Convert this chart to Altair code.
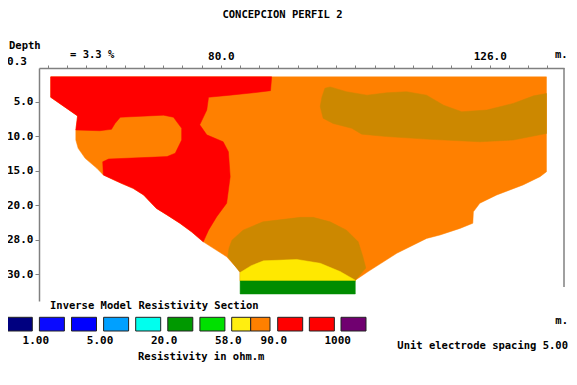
import altair as alt
import pandas as pd

# ---------------- data (distance in m, y in pseudo-depth levels) ----------------
orange_x = [50.9, 135.7, 135.7, 134.6, 131.7, 127.2, 124.3, 123.2, 123.1, 120.9, 117.5, 115.2,
            110.1, 105.2, 103.0, 103.0, 83.3, 83.3, 81.0, 77.0, 75.0, 73.0, 70.8, 69.0, 67.9,
            66.8, 65.0, 62.8, 59.9, 58.8, 56.8, 55.6, 55.2, 55.2, 55.5, 50.9]
orange_y = [0.28, 0.28, 3.03, 3.17, 3.41, 3.70, 3.94, 4.19, 4.52, 4.67, 4.86, 4.96,
            5.39, 5.92, 6.17, 6.19, 6.19, 5.92, 5.49, 5.06, 4.77, 4.52, 4.28, 4.09, 3.90,
            3.70, 3.51, 3.35, 3.12, 2.93, 2.64, 2.35, 2.11, 1.82, 1.41, 0.87]

red_x = [50.9, 88.7, 88.5, 85.6, 81.6, 77.9, 77.6, 76.4, 77.6, 80.4, 81.3, 81.6, 81.0, 79.3,
         77.9, 77.0, 75.0, 73.0, 70.8, 69.0, 67.9, 66.8, 65.0, 62.8, 59.9, 59.8, 60.8, 70.8,
         72.2, 73.3, 73.3, 71.9, 70.2, 62.8, 61.9, 61.3, 59.3, 55.2, 55.5, 50.9]
red_y = [0.28, 0.28, 0.68, 0.74, 0.81, 0.87, 1.24, 1.67, 1.96, 2.16, 2.45, 3.17, 3.94, 4.33,
         4.72, 5.06, 4.77, 4.52, 4.28, 4.09, 3.90, 3.70, 3.51, 3.35, 3.12, 2.74, 2.66, 2.59,
         2.49, 2.11, 1.77, 1.45, 1.39, 1.45, 1.63, 1.80, 1.84, 1.82, 1.41, 0.87]

band_x = [98.7, 97.8, 97.3, 97.0, 97.5, 99.2, 102.4, 104.1, 108.4, 115.8, 124.3, 130.0,
          135.7, 135.7, 133.5, 130.0, 125.5, 121.2, 118.1, 115.2, 111.8, 108.4, 105.0, 101.5]
band_y = [0.57, 0.61, 0.86, 1.14, 1.48, 1.63, 1.77, 1.94, 2.01, 2.09, 2.16, 2.11,
          1.92, 0.76, 0.83, 1.05, 1.24, 1.29, 1.10, 0.81, 0.71, 0.74, 0.81, 0.71]

mound_x = [83.3, 83.3, 81.2, 81.4, 81.9, 83.8, 87.2, 93.6, 95.8, 98.7, 101.5, 103.5, 104.3,
           104.8, 103.0, 103.0]
mound_y = [6.19, 5.95, 5.49, 5.24, 5.01, 4.72, 4.48, 4.35, 4.35, 4.48, 4.72, 5.06, 5.49,
           5.82, 6.17, 6.19]

yellow_x = [83.3, 83.3, 85.2, 87.3, 93.0, 97.0, 100.4, 103.0, 103.0]
yellow_y = [6.19, 5.95, 5.75, 5.61, 5.57, 5.68, 5.92, 6.17, 6.19]

green_x = [83.3, 103.0, 103.0, 83.3]
green_y = [6.19, 6.19, 6.57, 6.57]

x_ticks = [50.43, 53.71, 57.00, 60.29, 63.57, 66.86, 70.14, 73.43, 76.71, 80.0, 83.29, 86.57,
           89.86, 93.14, 96.43, 99.71, 103.0, 106.29, 109.57, 112.86, 116.14, 119.43, 122.71,
           126.0, 129.29, 132.57, 135.86]
x_labels = {80.0: "80.0", 126.0: "126.0"}
depth_labels = ["0.3", "5.0", "10.0", "15.0", "20.0", "28.0", "30.0"]

legend_colors = ["#000080", "#0a0aff", "#0000ff", "#00a0ff", "#00ffee", "#009900",
                 "#00e000", "#ffee10", "#ff8000", "#ff0000", "#ff0000", "#700070"]
legend_labels = ["1.00", "5.00", "20.0", "58.0", "90.0", "1000"]

# ---------------- layout ----------------
W, H = 525, 233
OX, OY = 39, 68          # page position of plot origin
FONT = "DejaVu Sans Mono"
FS_LAB = 11
FS_TXT = 10.5
AX = "#808080"

def vx(p):
    return p - OX

def vy(p):
    return p - OY

x_enc = alt.X(
    "x:Q",
    scale=alt.Scale(domain=[48.9, 138.7], nice=False, zero=False),
    axis=alt.Axis(
        orient="top", values=x_ticks, grid=False, title=None,
        labelExpr=" : ".join(
            f"abs(datum.value-{v})<0.01 ? '{t}'" for v, t in x_labels.items()) + " : ''",
        tickSize=3, tickColor=AX, domainColor=AX, domainWidth=1.5,
        labelFont=FONT, labelFontSize=FS_LAB, labelFontWeight="bold", labelColor="black",
        labelPadding=4, labelOverlap=False, labelFlush=False,
    ),
)
y_enc = alt.Y(
    "y:Q",
    scale=alt.Scale(domain=[0.023, 6.773], reverse=True, nice=False, zero=False),
    axis=alt.Axis(
        orient="left", values=[1, 2, 3, 4, 5, 6], grid=False, title=None,
        labelExpr="[" + ",".join(f"'{d}'" for d in depth_labels) + "][datum.value]",
        tickSize=4, tickColor=AX, domainColor=AX, domainWidth=1.5,
        labelFont=FONT, labelFontSize=FS_LAB, labelFontWeight="bold", labelColor="black",
        labelPadding=2, labelOverlap=False, labelFlush=False,
    ),
)


def poly(xs, ys, color):
    df = pd.DataFrame({"x": xs, "y": ys, "i": list(range(len(xs)))})
    return alt.Chart(df).mark_line(
        filled=True, fill=color, stroke=color, strokeWidth=0.5, interpolate="linear-closed"
    ).encode(x=x_enc, y=y_enc, order=alt.Order("i:Q"))


main = alt.layer(
    poly(orange_x, orange_y, "#ff8000"),
    poly(red_x, red_y, "#ff0000"),
    poly(band_x, band_y, "#cc8800"),
    poly(mound_x, mound_y, "#cc8800"),
    poly(yellow_x, yellow_y, "#ffe800"),
    poly(green_x, green_y, "#008c00"),
)

# legend boxes (layout)
lefts = [7.3 + 32.1 * i for i in range(7)] + [231.7, 250.7] + [277.7 + 31.65 * k for k in range(3)]
rights = [l + 25 for l in lefts[:7]] + [250.7, 270.0] + [l + 25 for l in lefts[9:]]
leg = pd.DataFrame({
    "x0": [vx(v) for v in lefts], "x1": [vx(v) for v in rights],
    "y0": [vy(317.3)] * 12, "y1": [vy(331.0)] * 12, "c": legend_colors,
})
lab_pos = [(rights[2 * k] + lefts[2 * k + 1]) / 2 for k in range(6)]
leg_lab = pd.DataFrame({"x": [vx(v) for v in lab_pos], "y": [vy(341.0)] * 6, "t": legend_labels})

ax_s = alt.Scale(domain=[0, W], nice=False, zero=False)
ay_s = alt.Scale(domain=[0, H], reverse=True, nice=False, zero=False)

boxes = alt.Chart(leg).mark_rect(stroke="#222222", strokeWidth=1).encode(
    x=alt.X("x0:Q", scale=ax_s, axis=None), x2="x1:Q",
    y=alt.Y("y0:Q", scale=ay_s, axis=None), y2="y1:Q",
    fill=alt.Fill("c:N", scale=None),
)


def style(fs):
    return dict(font=FONT, fontSize=fs, fontWeight="bold", color="black", baseline="middle")


def texts(rows, align, fs=FS_TXT):
    df = pd.DataFrame(rows, columns=["t", "x", "y"])
    df["x"] = df["x"].map(vx)
    df["y"] = df["y"].map(vy)
    return alt.Chart(df).mark_text(align=align, **style(fs)).encode(
        x=alt.X("x:Q", scale=ax_s, axis=None),
        y=alt.Y("y:Q", scale=ay_s, axis=None),
        text="t:N",
    )


leg_text = alt.Chart(leg_lab).mark_text(align="center", **style(FS_LAB)).encode(
    x=alt.X("x:Q", scale=ax_s, axis=None), y=alt.Y("y:Q", scale=ay_s, axis=None), text="t:N"
)

center_txt = texts([
    ("CONCEPCION PERFIL 2", 282.5, 14.5),
], "center")
lab_txt = texts([
    ("0.3", 17.0, 62.0),
], "center", FS_LAB)
left_txt = texts([
    ("Depth", 9.0, 45.5),
    ("= 3.3 %", 70.0, 54.5),
    ("m.", 555.0, 55.0),
    ("Inverse Model Resistivity Section", 50.0, 305.5),
    ("Resistivity in ohm.m", 138.0, 357.0),
], "left")
right_txt = texts([
    ("Unit electrode spacing 5.00", 568.0, 345.5),
    ("m.", 568.0, 320.5),
], "right")

right_axis = alt.Chart(pd.DataFrame({"a": [0]})).mark_rule(color=AX, strokeWidth=1.5).encode(
    x=alt.value(vx(564)), y=alt.value(0), y2=alt.value(vy(287))
)

annot = alt.layer(boxes, leg_text, center_txt, lab_txt, left_txt, right_txt, right_axis)

chart = alt.layer(main, annot).resolve_scale(x="independent", y="independent").properties(
    width=W, height=H,
    autosize=alt.AutoSizeParams(type="none"),
    padding={"left": OX - 8, "top": OY - 8, "right": 577 - 16 - (OX - 8) - W,
             "bottom": 385 - 16 - (OY - 8) - H},
    background="white",
).configure_view(strokeWidth=0)

chart.save("out.html", embed_options={"renderer": "svg", "actions": False})
